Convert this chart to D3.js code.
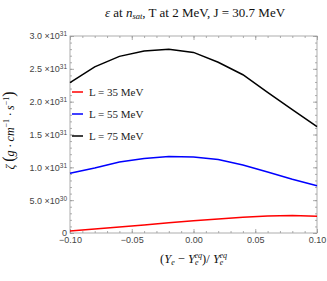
<!DOCTYPE html>
<html>
<head>
<meta charset="utf-8">
<script src="https://cdn.jsdelivr.net/npm/d3@7"></script>
<style>
  body { margin: 0; background: #fff; }
  svg { display: block; }
  .serif { font-family: "Liberation Serif", "DejaVu Serif", serif; }
  .tick text { font-family: "Liberation Sans", Arial, sans-serif; font-size: 9px; fill: #444; }
</style>
</head>
<body>
<svg id="chart" width="327" height="281"></svg>
<script>
// data
const xs = [-0.10, -0.08, -0.06, -0.04, -0.02, 0.00, 0.02, 0.04, 0.06, 0.08, 0.10];
const zetaL35 = [0.03, 0.06, 0.09, 0.12, 0.155, 0.185, 0.215, 0.24, 0.26, 0.265, 0.255]; // x1e31
const zetaL55 = [0.91, 0.99, 1.08, 1.135, 1.165, 1.157, 1.12, 1.035, 0.93, 0.82, 0.72];
const zetaL75 = [2.29, 2.53, 2.69, 2.77, 2.80, 2.75, 2.60, 2.41, 2.14, 1.88, 1.62];

const seriesNames = ["L = 35 MeV", "L = 55 MeV", "L = 75 MeV"];
const seriesColors = ["#ff0000", "#0000ff", "#000000"];

const xTicks = [-0.10, -0.05, 0.00, 0.05, 0.10];
const xTickLabels = ["\u22120.10", "\u22120.05", "0.00", "0.05", "0.10"];
const yTicks = [0, 0.5, 1.0, 1.5, 2.0, 2.5, 3.0];
const yTickMantissa = ["0", "5.0", "1.0", "1.5", "2.0", "2.5", "3.0"];
const yTickExponent = ["", "30", "31", "31", "31", "31", "31"];

const svg = d3.select("#chart");
const margin = { top: 36, right: 10, bottom: 48, left: 70 };
const width = 327, height = 281;
const innerWidth = width - margin.left - margin.right;
const innerHeight = height - margin.top - margin.bottom;

const g = svg.append("g").attr("transform", `translate(${margin.left},${margin.top})`);

const x = d3.scaleLinear().domain([-0.10, 0.10]).range([0, innerWidth]);
const y = d3.scaleLinear().domain([0, 3.0]).range([innerHeight, 0]);

// minor ticks (all four sides, pointing in)
const xMinor = d3.range(-0.10, 0.1001, 0.01);
const yMinor = d3.range(0, 3.0001, 0.1);

function styleAxis(sel) {
  sel.select(".domain").remove();
  sel.selectAll(".tick line").attr("stroke", "#999").attr("stroke-width", 0.8);
}
function noLabels(sel) {
  sel.selectAll(".tick text").remove();
}

g.append("g").attr("transform", `translate(0,${innerHeight})`)
  .call(d3.axisBottom(x).tickValues(xMinor).tickSize(-2))
  .call(styleAxis).call(noLabels);
g.append("g")
  .call(d3.axisTop(x).tickValues(xMinor).tickSize(-2))
  .call(styleAxis).call(noLabels);
g.append("g")
  .call(d3.axisLeft(y).tickValues(yMinor).tickSize(-2))
  .call(styleAxis).call(noLabels);
g.append("g").attr("transform", `translate(${innerWidth},0)`)
  .call(d3.axisRight(y).tickValues(yMinor).tickSize(-2))
  .call(styleAxis).call(noLabels);

// major ticks
g.append("g").attr("transform", `translate(0,${innerHeight})`)
  .call(d3.axisBottom(x).tickValues(xTicks).tickSize(-4).tickPadding(4)
    .tickFormat((d, i) => xTickLabels[i]))
  .call(styleAxis);
g.append("g")
  .call(d3.axisTop(x).tickValues(xTicks).tickSize(-4))
  .call(styleAxis).call(noLabels);
const yAxis = g.append("g")
  .call(d3.axisLeft(y).tickValues(yTicks).tickSize(-4).tickPadding(3))
  .call(styleAxis);
g.append("g").attr("transform", `translate(${innerWidth},0)`)
  .call(d3.axisRight(y).tickValues(yTicks).tickSize(-4))
  .call(styleAxis).call(noLabels);

// y tick labels with superscript exponents
yAxis.selectAll(".tick text").each(function (d, i) {
  const t = d3.select(this).text(null);
  t.append("tspan").text(yTickMantissa[i] + (yTickExponent[i] ? " \u00d710" : ""));
  if (yTickExponent[i]) {
    t.append("tspan").attr("dy", "-0.45em").attr("font-size", "6.5px").text(yTickExponent[i]);
  }
});

// frame
g.append("rect")
  .attr("width", innerWidth).attr("height", innerHeight)
  .attr("fill", "none").attr("stroke", "#999").attr("stroke-width", 0.8);

// lines
const series = [zetaL35, zetaL55, zetaL75];
const line = d3.line().x((d, i) => x(xs[i])).y((d) => y(d));
series.forEach((s, k) => {
  g.append("path")
    .datum(s)
    .attr("fill", "none")
    .attr("stroke", seriesColors[k])
    .attr("stroke-width", 1.5)
    .attr("d", line);
});

// legend
const legend = g.append("g").attr("transform", "translate(2,56)");
seriesNames.forEach((name, k) => {
  const ly = k * 22;
  legend.append("line")
    .attr("x1", 0).attr("x2", 11).attr("y1", ly).attr("y2", ly)
    .attr("stroke", seriesColors[k]).attr("stroke-width", 1.5);
  legend.append("text").attr("class", "serif")
    .attr("x", 17).attr("y", ly).attr("dy", "0.35em")
    .attr("font-size", "11px").attr("fill", "#222")
    .text(name);
});

// title
const title = svg.append("text").attr("class", "serif")
  .attr("x", 195).attr("y", 17).attr("text-anchor", "middle")
  .attr("font-size", "13px").attr("fill", "#111");
title.append("tspan").attr("font-style", "italic").text("\u03b5");
title.append("tspan").text(" at ");
title.append("tspan").attr("font-style", "italic").text("n");
title.append("tspan").attr("font-style", "italic").attr("font-size", "8.5px").attr("dy", "2").text("sat");
title.append("tspan").attr("dy", "-2").text(", T at 2 MeV, J = 30.7 MeV");

// x axis title
const xTitle = svg.append("text").attr("class", "serif")
  .attr("x", margin.left + innerWidth / 2).attr("y", 263).attr("text-anchor", "middle")
  .attr("font-size", "12.5px").attr("fill", "#111");
xTitle.append("tspan").text("(");
xTitle.append("tspan").attr("font-style", "italic").text("Y");
xTitle.append("tspan").attr("font-style", "italic").attr("font-size", "8px").attr("dy", "2").text("e");
xTitle.append("tspan").attr("dy", "-2").text(" \u2212 ");
xTitle.append("tspan").attr("font-style", "italic").text("Y");
xTitle.append("tspan").attr("font-style", "italic").attr("font-size", "8px").attr("dy", "2").text("e");
xTitle.append("tspan").attr("font-style", "italic").attr("font-size", "8px").attr("dx", "-4").attr("dy", "-7").text("eq");
xTitle.append("tspan").attr("dy", "5").text(")/ ");
xTitle.append("tspan").attr("font-style", "italic").text("Y");
xTitle.append("tspan").attr("font-style", "italic").attr("font-size", "8px").attr("dy", "2").text("e");
xTitle.append("tspan").attr("font-style", "italic").attr("font-size", "8px").attr("dx", "-4").attr("dy", "-7").text("eq");

// y axis title
const yTitle = svg.append("text").attr("class", "serif")
  .attr("transform", `translate(14,${margin.top + innerHeight / 2 - 4}) rotate(-90)`)
  .attr("text-anchor", "middle")
  .attr("font-size", "12px").attr("fill", "#111");
yTitle.append("tspan").attr("font-style", "italic").text("\u03b6 ");
yTitle.append("tspan").attr("font-size", "16px").text("(");
yTitle.append("tspan").attr("font-style", "italic").text("g \u00b7 cm");
yTitle.append("tspan").attr("font-size", "8px").attr("dy", "-5").text("\u22121");
yTitle.append("tspan").attr("font-style", "italic").attr("dy", "5").text(" \u00b7 s");
yTitle.append("tspan").attr("font-size", "8px").attr("dy", "-5").text("\u22121");
yTitle.append("tspan").attr("font-size", "16px").attr("dy", "5").text(")");
</script>
</body>
</html>
